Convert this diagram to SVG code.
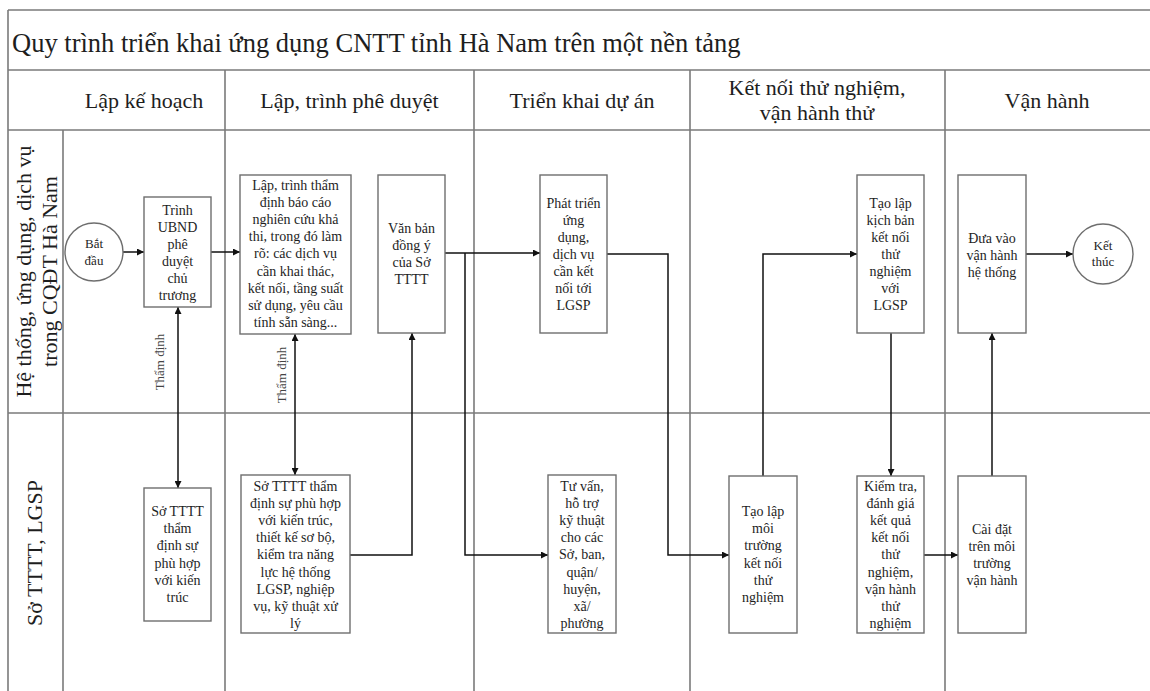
<svg xmlns="http://www.w3.org/2000/svg" width="1150" height="691" viewBox="0 0 1150 691">
  <style>
    .frame { fill: none; stroke: #7a7a7a; stroke-width: 1.6; }
    .box { fill: #ffffff; stroke: #6e6e6e; stroke-width: 1.4; }
    .t { font-family: "Liberation Serif", "Times New Roman", serif; fill: #1e1e1e; }
    .title { font-size: 26.5px; }
    .head { font-size: 22px; text-anchor: middle; }
    .lane { font-size: 22px; text-anchor: middle; }
    .bt { font-size: 14px; text-anchor: middle; }
    .ct { font-size: 13px; text-anchor: middle; }
    .lbl { font-size: 13px; text-anchor: middle; fill: #444; }
    .conn { fill: none; stroke: #111; stroke-width: 1.5; }
  </style>
  <defs>
    <marker id="arrow" viewBox="0 0 10 10" refX="10" refY="5" markerWidth="7" markerHeight="7" orient="auto-start-reverse" markerUnits="userSpaceOnUse">
      <path d="M0,0 L10,5 L0,10 Z" fill="#111"/>
    </marker>
  </defs>

  <rect width="1150" height="691" fill="#ffffff"/>

  <!-- swimlane frame -->
  <g id="frame" class="frame">
    <line x1="8" y1="10" x2="1150" y2="10"/>
    <line x1="8" y1="70" x2="1150" y2="70"/>
    <line x1="8" y1="130" x2="1150" y2="130"/>
    <line x1="8" y1="413" x2="1150" y2="413"/>
    <line x1="8" y1="10" x2="8" y2="691"/>
    <line x1="63" y1="130" x2="63" y2="691"/>
    <line x1="225" y1="70" x2="225" y2="691"/>
    <line x1="474" y1="70" x2="474" y2="691"/>
    <line x1="690" y1="70" x2="690" y2="691"/>
    <line x1="945" y1="70" x2="945" y2="691"/>
  </g>

  <!-- title and phase headers -->
  <g id="title">
    <text class="t title" x="12" y="52">Quy trình triển khai ứng dụng CNTT tỉnh Hà Nam trên một nền tảng</text>
  </g>
  <g id="headers">
    <text class="t head" x="144" y="108">Lập kế hoạch</text>
    <text class="t head" x="349.5" y="108">Lập, trình phê duyệt</text>
    <text class="t head" x="582" y="108">Triển khai dự án</text>
    <text class="t head" x="817" y="95">Kết nối thử nghiệm,</text>
    <text class="t head" x="817" y="120">vận hành thử</text>
    <text class="t head" x="1047" y="108">Vận hành</text>
  </g>

  <!-- lane labels -->
  <g id="lane-1">
    <text class="t lane" transform="rotate(-90 31 271.5)" x="31" y="271.5">Hệ thống, ứng dụng, dịch vụ</text>
    <text class="t lane" transform="rotate(-90 57 271.5)" x="57" y="271.5">trong CQĐT Hà Nam</text>
  </g>
  <g id="lane-2">
    <text class="t lane" transform="rotate(-90 42 553)" x="42" y="553">Sở TTTT, LGSP</text>
  </g>

  <!-- connectors -->
  <g id="connectors" class="conn">
    <path d="M123,252 H144" marker-end="url(#arrow)"/>
    <path d="M211,252 H240" marker-end="url(#arrow)"/>
    <path d="M178,307 V488" marker-start="url(#arrow)" marker-end="url(#arrow)"/>
    <path d="M295,334 V475" marker-start="url(#arrow)" marker-end="url(#arrow)"/>
    <path d="M350,555 H412 V333" marker-end="url(#arrow)"/>
    <path d="M445,253 H540" marker-end="url(#arrow)"/>
    <path d="M465,253 V555 H548" marker-end="url(#arrow)"/>
    <path d="M607,254 H668 V555 H729" marker-end="url(#arrow)"/>
    <path d="M763,476 V254 H857" marker-end="url(#arrow)"/>
    <path d="M891,333 V476" marker-end="url(#arrow)"/>
    <path d="M924,555 H958" marker-end="url(#arrow)"/>
    <path d="M992,476 V333" marker-end="url(#arrow)"/>
    <path d="M1026,254 H1073" marker-end="url(#arrow)"/>
  </g>

  <!-- connector labels -->
  <g id="labels">
    <text class="t lbl" transform="rotate(-90 164 362)" x="164" y="362">Thẩm định</text>
    <text class="t lbl" transform="rotate(-90 286 375)" x="286" y="375">Thẩm định</text>
  </g>

  <!-- lane 1 nodes -->
  <g id="start">
    <circle cx="94" cy="252" r="29" class="box"/>
    <text class="t ct" x="94" y="248">Bắt</text>
    <text class="t ct" x="94" y="265">đầu</text>
  </g>
  <g id="trinh-ubnd">
    <rect x="144" y="197" width="67" height="110" class="box"/>
    <text class="t bt" x="177.5" y="215">Trình<tspan x="177.5" dy="17">UBND</tspan><tspan x="177.5" dy="17">phê</tspan><tspan x="177.5" dy="17">duyệt</tspan><tspan x="177.5" dy="17">chủ</tspan><tspan x="177.5" dy="17">trương</tspan></text>
  </g>
  <g id="lap-bao-cao">
    <rect x="240" y="175" width="111" height="159" class="box"/>
    <text class="t bt" x="295.5" y="189.5">Lập, trình thẩm<tspan x="295.5" dy="17.2">định báo cáo</tspan><tspan x="295.5" dy="17.2">nghiên cứu khả</tspan><tspan x="295.5" dy="17.2">thi, trong đó làm</tspan><tspan x="295.5" dy="17.2">rõ: các dịch vụ</tspan><tspan x="295.5" dy="17.2">cần khai thác,</tspan><tspan x="295.5" dy="17.2">kết nối, tầng suất</tspan><tspan x="295.5" dy="17.2">sử dụng, yêu cầu</tspan><tspan x="295.5" dy="17.2">tính sẵn sàng...</tspan></text>
  </g>
  <g id="van-ban">
    <rect x="378" y="175" width="67" height="158" class="box"/>
    <text class="t bt" x="411.5" y="232.5">Văn bản<tspan x="411.5" dy="17">đồng ý</tspan><tspan x="411.5" dy="17">của Sở</tspan><tspan x="411.5" dy="17">TTTT</tspan></text>
  </g>
  <g id="phat-trien">
    <rect x="540" y="175" width="67" height="158" class="box"/>
    <text class="t bt" x="573.5" y="207.5">Phát triển<tspan x="573.5" dy="17">ứng</tspan><tspan x="573.5" dy="17">dụng,</tspan><tspan x="573.5" dy="17">dịch vụ</tspan><tspan x="573.5" dy="17">cần kết</tspan><tspan x="573.5" dy="17">nối tới</tspan><tspan x="573.5" dy="17">LGSP</tspan></text>
  </g>
  <g id="kich-ban">
    <rect x="857" y="175" width="67" height="158" class="box"/>
    <text class="t bt" x="890.5" y="207.5">Tạo lập<tspan x="890.5" dy="17">kịch bản</tspan><tspan x="890.5" dy="17">kết nối</tspan><tspan x="890.5" dy="17">thử</tspan><tspan x="890.5" dy="17">nghiệm</tspan><tspan x="890.5" dy="17">với</tspan><tspan x="890.5" dy="17">LGSP</tspan></text>
  </g>
  <g id="dua-vao">
    <rect x="958" y="175" width="68" height="158" class="box"/>
    <text class="t bt" x="992" y="242.5">Đưa vào<tspan x="992" dy="17">vận hành</tspan><tspan x="992" dy="17">hệ thống</tspan></text>
  </g>
  <g id="end">
    <circle cx="1103" cy="254" r="30" class="box"/>
    <text class="t ct" x="1103" y="250">Kết</text>
    <text class="t ct" x="1103" y="266">thúc</text>
  </g>

  <!-- lane 2 nodes -->
  <g id="tham-dinh-kien-truc">
    <rect x="144" y="488" width="67" height="133" class="box"/>
    <text class="t bt" x="177.5" y="516">Sở TTTT<tspan x="177.5" dy="17.2">thẩm</tspan><tspan x="177.5" dy="17.2">định sự</tspan><tspan x="177.5" dy="17.2">phù hợp</tspan><tspan x="177.5" dy="17.2">với kiến</tspan><tspan x="177.5" dy="17.2">trúc</tspan></text>
  </g>
  <g id="tham-dinh-nang-luc">
    <rect x="241" y="475" width="109" height="158" class="box"/>
    <text class="t bt" x="295.5" y="491">Sở TTTT thẩm<tspan x="295.5" dy="17.1">định sự phù hợp</tspan><tspan x="295.5" dy="17.1">với kiến trúc,</tspan><tspan x="295.5" dy="17.1">thiết kế sơ bộ,</tspan><tspan x="295.5" dy="17.1">kiểm tra năng</tspan><tspan x="295.5" dy="17.1">lực hệ thống</tspan><tspan x="295.5" dy="17.1">LGSP, nghiệp</tspan><tspan x="295.5" dy="17.1">vụ, kỹ thuật xử</tspan><tspan x="295.5" dy="17.1">lý</tspan></text>
  </g>
  <g id="tu-van">
    <rect x="548" y="475" width="68" height="158" class="box"/>
    <text class="t bt" x="582" y="491">Tư vấn,<tspan x="582" dy="17.1">hỗ trợ</tspan><tspan x="582" dy="17.1">kỹ thuật</tspan><tspan x="582" dy="17.1">cho các</tspan><tspan x="582" dy="17.1">Sở, ban,</tspan><tspan x="582" dy="17.1">quận/</tspan><tspan x="582" dy="17.1">huyện,</tspan><tspan x="582" dy="17.1">xã/</tspan><tspan x="582" dy="17.1">phường</tspan></text>
  </g>
  <g id="moi-truong-ket-noi">
    <rect x="729" y="476" width="68" height="157" class="box"/>
    <text class="t bt" x="763" y="516">Tạo lập<tspan x="763" dy="17.2">môi</tspan><tspan x="763" dy="17.2">trường</tspan><tspan x="763" dy="17.2">kết nối</tspan><tspan x="763" dy="17.2">thử</tspan><tspan x="763" dy="17.2">nghiệm</tspan></text>
  </g>
  <g id="kiem-tra">
    <rect x="857" y="476" width="67" height="157" class="box"/>
    <text class="t bt" x="890.5" y="491">Kiểm tra,<tspan x="890.5" dy="17.1">đánh giá</tspan><tspan x="890.5" dy="17.1">kết quả</tspan><tspan x="890.5" dy="17.1">kết nối</tspan><tspan x="890.5" dy="17.1">thử</tspan><tspan x="890.5" dy="17.1">nghiệm,</tspan><tspan x="890.5" dy="17.1">vận hành</tspan><tspan x="890.5" dy="17.1">thử</tspan><tspan x="890.5" dy="17.1">nghiệm</tspan></text>
  </g>
  <g id="cai-dat">
    <rect x="958" y="476" width="68" height="157" class="box"/>
    <text class="t bt" x="992" y="533.5">Cài đặt<tspan x="992" dy="17">trên môi</tspan><tspan x="992" dy="17">trường</tspan><tspan x="992" dy="17">vận hành</tspan></text>
  </g>
</svg>
